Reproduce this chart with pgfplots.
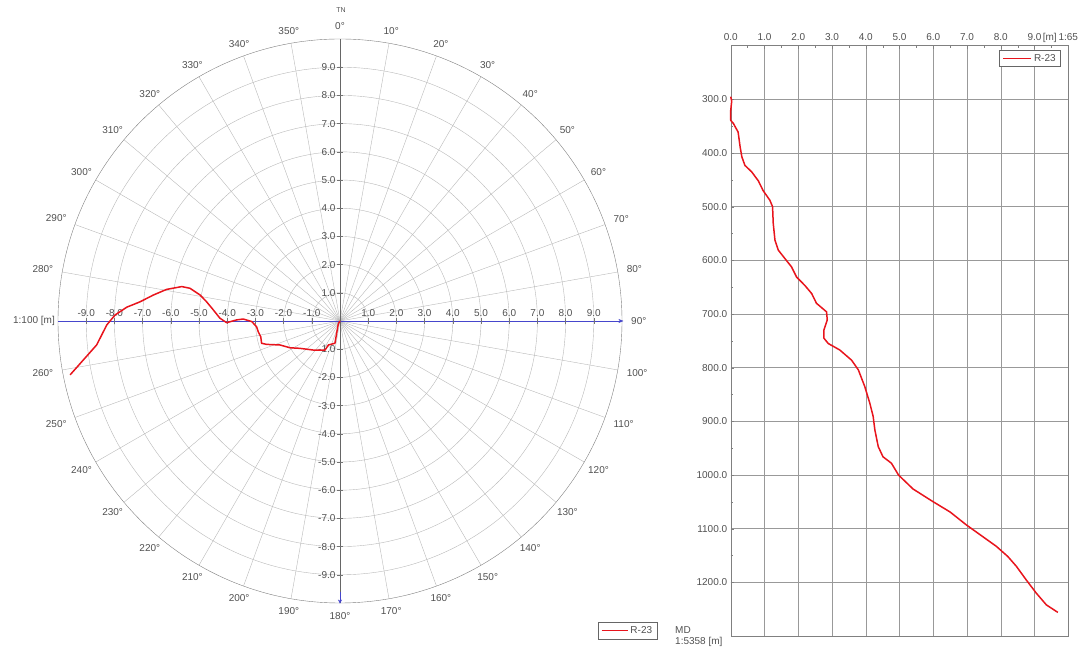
\documentclass[border=0pt]{standalone}
\usepackage{fontspec}
\setmainfont{Liberation Sans}
\usepackage{pgfplots}
\pgfplotsset{compat=1.18}
\usetikzlibrary{arrows.meta}

\definecolor{gridc}{HTML}{B8B8B8}
\definecolor{txt}{HTML}{505050}
\definecolor{well}{HTML}{E8141C}
\definecolor{axblue}{HTML}{4646CC}

\begin{document}
\begin{tikzpicture}[font=\fontsize{10}{12}\selectfont]
\useasboundingbox (0,0) rectangle (1090pt,652pt);

% ---- plan view (polar grid, north up) ----
\begin{axis}[
    at={(340pt,331pt)}, anchor=center,
    x=28.2pt, y=28.2pt,
    xmin=-10, xmax=10, ymin=-10, ymax=10,
    hide axis, clip=false,
    legend style={at={(0.957,-0.034)}, anchor=north west, draw=black!60,
      font=\fontsize{10}{12}\selectfont, text=txt, inner xsep=3pt, inner ysep=2pt},
    legend image code/.code={\draw[#1] (0pt,0pt) -- (26pt,0pt);},
  ]
  \pgfplotsinvokeforeach{1,...,9}{\draw[gridc] (axis cs:0,0) circle[radius=#1];}
  \draw[black!50] (axis cs:0,0) circle[radius=10];
  \pgfplotsinvokeforeach{0,10,...,350}{%
    \draw[gridc] (axis cs:0,0) -- (axis cs:{10*sin(#1)},{10*cos(#1)});}
  \draw[black!60] (axis cs:0,-10) -- (axis cs:0,10);
  \draw[axblue, -{Stealth[length=5pt,width=4pt]}] (axis cs:-10,0) -- (axis cs:10.05,0);
  \draw[axblue, -{Stealth[length=4pt,width=4pt]}] (axis cs:0,-9.6) -- (axis cs:0,-10.02);
  \pgfplotsinvokeforeach{-9,-8,...,-1,1,2,...,9}{%
    \draw[black!55] (axis cs:#1,-0.1) -- (axis cs:#1,0.1);
    \draw[black!55] (axis cs:-0.1,#1) -- (axis cs:0.1,#1);
    \node[anchor=south, text=txt, inner sep=1pt] at (axis cs:#1,0.12) {#1.0};
    \node[anchor=east, text=txt, inner sep=1pt] at (axis cs:-0.12,#1) {#1.0};
  }
  \addplot[well, line width=1.5pt, line join=round] coordinates {
    (0,0) (-0.06,-0.10) (-0.18,-0.79) (-0.41,-0.85) (-0.53,-1.03) (-0.95,-1.03)
    (-1.42,-0.97) (-1.77,-0.95) (-2.13,-0.85) (-2.60,-0.83) (-2.78,-0.79)
    (-2.81,-0.56) (-2.90,-0.38) (-2.96,-0.20) (-3.13,-0.02) (-3.43,0.07)
    (-3.66,0.04) (-4.02,-0.06) (-4.26,0.10) (-4.49,0.39) (-4.73,0.68)
    (-4.96,0.92) (-5.32,1.16) (-5.61,1.22) (-6.15,1.12) (-6.62,0.92)
    (-7.09,0.68) (-7.56,0.49) (-7.98,0.21) (-8.27,-0.14) (-8.63,-0.85)
    (-9.10,-1.38) (-9.57,-1.91)
  };
  \addlegendentry{R-23}
\end{axis}

% azimuth labels
\begin{scope}[shift={(340pt,331pt)}]
  \foreach \a in {10,20,...,260,280,290,...,350} {
    \pgfmathtruncatemacro\anc{mod(630-\a,360)}
    \node[anchor=\anc, text=txt, inner sep=0pt] at (90-\a:291pt) {\a°};
  }
  \node[anchor=south, text=txt, inner sep=0pt] at (0pt,291pt) {0°};
  \node[text=txt, inner sep=0pt, font=\fontsize{7}{8}\selectfont] at (1pt,311pt) {TN};
\end{scope}
\node[anchor=east, text=txt, inner sep=0pt] at (55pt,331pt) {1:100 [m]};
\node[anchor=west, text=txt, inner sep=0pt] at (675pt,22pt) {MD};
\node[anchor=west, text=txt, inner sep=0pt] at (675pt,10.5pt) {1:5358 [m]};

% ---- section view: displacement vs MD ----
\begin{axis}[
    at={(730.7pt,16pt)}, anchor=south west,
    scale only axis, width=337.6pt, height=590.3pt,
    xmin=0, xmax=10, ymin=200, ymax=1300, y dir=reverse,
    xtick={0,1,...,10},
    xticklabels={0.0,1.0,2.0,3.0,4.0,5.0,6.0,7.0,8.0,9.0,1:65},
    ytick={300,400,...,1200},
    xtick pos=right, xticklabel pos=right,
    ytick pos=left, yticklabel pos=left,
    minor x tick num=1, minor y tick num=1,
    grid=major, major grid style={black!40},
    axis line style={black!50}, tick style={black!50},
    major tick length=3pt, minor tick length=2pt,
    tick label style={text=txt, font=\fontsize{10}{12}\selectfont},
    xticklabel style={yshift=2pt},
    yticklabel style={/pgf/number format/.cd, fixed, fixed zerofill, precision=1,
      1000 sep={}, assume math mode=true},
    legend style={at={(0.978,0.993)}, anchor=north east, draw=black!60,
      font=\fontsize{10}{12}\selectfont, text=txt, inner xsep=3pt, inner ysep=2pt},
    legend image code/.code={\draw[#1] (0pt,0pt) -- (28pt,0pt);},
    clip=false,
  ]
  \addplot[well, line width=1.5pt, line join=round] coordinates {
    (0.00,295) (0.03,303) (0.00,321) (0.00,339) (0.08,345) (0.22,361)
    (0.28,389) (0.33,407) (0.42,423) (0.62,435) (0.82,452) (0.96,470)
    (1.16,488) (1.24,500) (1.26,531) (1.31,562) (1.41,581) (1.61,597)
    (1.80,612) (1.95,631) (2.20,647) (2.40,662) (2.54,680) (2.84,696)
    (2.86,711) (2.76,730) (2.76,745) (2.89,755) (3.23,767) (3.58,786)
    (3.78,804) (3.97,835) (4.12,866) (4.22,891) (4.27,916) (4.37,947)
    (4.51,966) (4.76,978) (4.97,1000) (5.40,1026) (5.95,1048) (6.50,1069)
    (6.98,1093) (7.47,1115) (7.87,1133) (8.21,1152) (8.46,1170) (8.76,1196)
    (9.05,1220) (9.35,1242) (9.69,1256)
  };
  \addlegendentry{R-23}
  \node[anchor=base, text=txt, inner sep=0pt] at (axis cs:9.45,200) [yshift=5pt] {[m]};
\end{axis}
\end{tikzpicture}
\end{document}
